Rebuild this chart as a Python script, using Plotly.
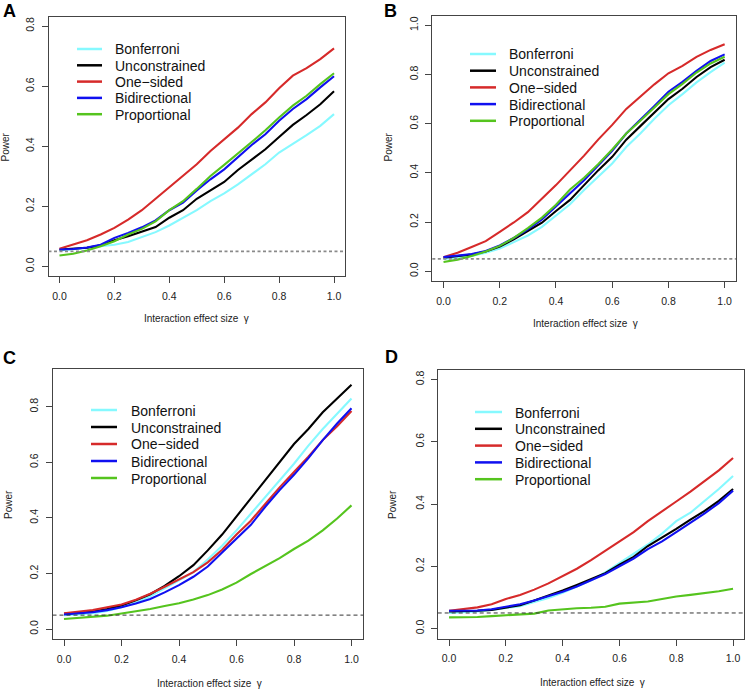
import plotly.graph_objects as go

W, H = 747, 691

X = [0.0, 0.05, 0.1, 0.15, 0.2, 0.25, 0.3, 0.35, 0.4, 0.45, 0.5,
     0.55, 0.6, 0.65, 0.7, 0.75, 0.8, 0.85, 0.9, 0.95, 1.0]

SERIES = ["Bonferroni", "Unconstrained", "One\u2212sided", "Bidirectional", "Proportional"]
COLORS = ["#86F9FF", "#000000", "#D62A2A", "#1010F0", "#55C41E"]

# Panel A
A_bonf = [0.053, 0.056, 0.061, 0.067, 0.072, 0.081, 0.098, 0.114, 0.136, 0.162, 0.187,
          0.217, 0.243, 0.273, 0.306, 0.340, 0.379, 0.407, 0.437, 0.468, 0.507]
A_unc = [0.056, 0.058, 0.062, 0.070, 0.087, 0.100, 0.115, 0.131, 0.162, 0.187, 0.225,
         0.254, 0.281, 0.321, 0.357, 0.390, 0.431, 0.471, 0.504, 0.540, 0.583]
A_one = [0.059, 0.072, 0.087, 0.106, 0.128, 0.156, 0.187, 0.225, 0.264, 0.304, 0.340,
         0.384, 0.423, 0.462, 0.507, 0.546, 0.593, 0.635, 0.660, 0.690, 0.726]
A_bid = [0.056, 0.058, 0.063, 0.072, 0.095, 0.111, 0.130, 0.153, 0.187, 0.212, 0.253,
         0.290, 0.323, 0.364, 0.404, 0.440, 0.485, 0.524, 0.557, 0.596, 0.633]
A_pro = [0.036, 0.042, 0.053, 0.067, 0.084, 0.106, 0.125, 0.150, 0.187, 0.217, 0.258,
         0.301, 0.338, 0.375, 0.414, 0.453, 0.496, 0.535, 0.568, 0.607, 0.643]

# Panel B
B_bonf = [0.050, 0.055, 0.062, 0.075, 0.092, 0.118, 0.145, 0.180, 0.228, 0.272, 0.330,
          0.385, 0.438, 0.505, 0.560, 0.620, 0.675, 0.720, 0.768, 0.810, 0.848]
B_unc = [0.055, 0.060, 0.068, 0.080, 0.100, 0.130, 0.162, 0.197, 0.245, 0.290, 0.350,
         0.410, 0.465, 0.535, 0.590, 0.645, 0.700, 0.742, 0.790, 0.830, 0.860]
B_one = [0.057, 0.075, 0.098, 0.122, 0.160, 0.198, 0.240, 0.295, 0.350, 0.410, 0.470,
         0.535, 0.595, 0.660, 0.710, 0.760, 0.805, 0.835, 0.872, 0.900, 0.923]
B_bid = [0.057, 0.062, 0.070, 0.082, 0.105, 0.135, 0.170, 0.210, 0.262, 0.315, 0.370,
         0.430, 0.490, 0.560, 0.615, 0.672, 0.730, 0.770, 0.815, 0.855, 0.882]
B_pro = [0.037, 0.047, 0.062, 0.080, 0.103, 0.135, 0.175, 0.218, 0.270, 0.332, 0.380,
         0.435, 0.495, 0.560, 0.612, 0.665, 0.720, 0.762, 0.808, 0.845, 0.872]

# Panel C
C_bonf = [0.050, 0.052, 0.057, 0.065, 0.078, 0.095, 0.118, 0.145, 0.175, 0.205, 0.250,
          0.300, 0.355, 0.415, 0.475, 0.535, 0.595, 0.660, 0.720, 0.775, 0.830]
C_unc = [0.055, 0.058, 0.063, 0.072, 0.085, 0.103, 0.125, 0.155, 0.190, 0.230, 0.283,
         0.340, 0.405, 0.470, 0.535, 0.600, 0.666, 0.720, 0.780, 0.830, 0.879]
C_one = [0.057, 0.062, 0.068, 0.078, 0.088, 0.105, 0.127, 0.152, 0.180, 0.205, 0.240,
         0.285, 0.340, 0.390, 0.450, 0.510, 0.565, 0.620, 0.680, 0.730, 0.785]
C_bid = [0.052, 0.055, 0.060, 0.068, 0.078, 0.092, 0.108, 0.132, 0.158, 0.188, 0.225,
         0.275, 0.325, 0.375, 0.440, 0.500, 0.555, 0.615, 0.680, 0.740, 0.795]
C_pro = [0.036, 0.040, 0.042, 0.048, 0.056, 0.063, 0.072, 0.083, 0.093, 0.106, 0.122,
         0.142, 0.167, 0.198, 0.225, 0.255, 0.288, 0.318, 0.355, 0.398, 0.445]

# Panel D
D_bonf = [0.050, 0.052, 0.055, 0.060, 0.065, 0.072, 0.085, 0.098, 0.115, 0.135, 0.155,
          0.180, 0.210, 0.240, 0.270, 0.305, 0.345, 0.372, 0.410, 0.448, 0.490]
D_unc = [0.055, 0.055, 0.057, 0.060, 0.068, 0.075, 0.090, 0.105, 0.122, 0.140, 0.158,
         0.178, 0.205, 0.230, 0.265, 0.292, 0.320, 0.350, 0.378, 0.410, 0.448]
D_one = [0.057, 0.062, 0.068, 0.078, 0.095, 0.108, 0.125, 0.145, 0.168, 0.192, 0.220,
         0.250, 0.280, 0.310, 0.345, 0.378, 0.408, 0.440, 0.475, 0.508, 0.548]
D_bid = [0.057, 0.057, 0.058, 0.062, 0.070, 0.078, 0.090, 0.103, 0.118, 0.135, 0.155,
         0.175, 0.200, 0.225, 0.255, 0.280, 0.310, 0.340, 0.370, 0.403, 0.443]
D_pro = [0.036, 0.036, 0.037, 0.040, 0.043, 0.045, 0.048, 0.058, 0.062, 0.065, 0.067,
         0.070, 0.080, 0.083, 0.087, 0.095, 0.103, 0.108, 0.113, 0.120, 0.128]

PANEL_LABELS = ["A", "B", "C", "D"]
PANEL_DATA = [
    [A_bonf, A_unc, A_one, A_bid, A_pro],
    [B_bonf, B_unc, B_one, B_bid, B_pro],
    [C_bonf, C_unc, C_one, C_bid, C_pro],
    [D_bonf, D_unc, D_one, D_bid, D_pro],
]
Y_TICKS = [
    [0.0, 0.2, 0.4, 0.6, 0.8],
    [0.0, 0.2, 0.4, 0.6, 0.8, 1.0],
    [0.0, 0.2, 0.4, 0.6, 0.8],
    [0.0, 0.2, 0.4, 0.6, 0.8],
]
Y_RANGES = [[-0.032, 0.832], [-0.04, 1.04], [-0.036, 0.936], [-0.032, 0.832]]
X_TICKS = [0.0, 0.2, 0.4, 0.6, 0.8, 1.0]
ALPHA = 0.05
X_TITLE = "Interaction effect size  \u03b3"
Y_TITLE = "Power"

# layout geometry (pixels)
BOXES = [  # left, right, top, bottom
    (48.5, 345.0, 16.5, 276.0),
    (432.3, 735.9, 15.5, 281.0),
    (52.5, 363.0, 369.0, 639.0),
    (437.7, 744.4, 369.5, 638.5),
]
LEG = [  # line x0, line x1, text x, first row y, row step
    (77, 102, 113, 49, 16.3),
    (470, 496, 507, 54, 16.7),
    (91, 117, 129, 410, 17.0),
    (475, 502, 513, 412, 16.8),
]
LETTER_POS = [(9, 11.5), (390, 10.5), (9.5, 358), (391.5, 357)]
YTITLE_POS = [(5.5, 147), (388.5, 147), (8, 505), (392, 505)]
XTITLE_POS = [(196.7, 318), (585, 323), (209, 683), (592, 682)]
REF_STYLE = [("#8a8a8a", 1.6, "3px,2.5px"), ("#8a8a8a", 1.6, "3px,2.5px"),
             ("#333333", 1.0, "4px,3px"), ("#333333", 1.0, "4px,3px")]

FONT = "Liberation Sans, Arial, Helvetica, sans-serif"
AXC = "#444444"


def px(x):
    return x / W


def py(y):
    return 1 - y / H


fig = go.Figure()
shapes = []
annotations = []

for i in range(4):
    sfx = "" if i == 0 else str(i + 1)
    xa, ya = "x" + sfx, "y" + sfx
    l, r, t, b = BOXES[i]
    for name, col, vals in zip(SERIES, COLORS, PANEL_DATA[i]):
        fig.add_trace(go.Scatter(x=X, y=vals, mode="lines", name=name,
                                 line=dict(color=col, width=2.1),
                                 xaxis=xa, yaxis=ya, showlegend=False,
                                 hoverinfo="skip"))
    common = dict(showgrid=False, zeroline=False, showline=True, mirror=True,
                  linecolor=AXC, linewidth=1, ticks="outside", ticklen=6,
                  tickcolor=AXC, tickwidth=1,
                  tickfont=dict(family=FONT, size=10.5, color="#222222"))
    fig.update_layout(**{
        "xaxis" + sfx: dict(domain=[px(l), px(r)], range=[-0.04, 1.04],
                            tickvals=X_TICKS, tickformat=".1f", anchor=ya,
                            ticklabelstandoff=4, **common),
        "yaxis" + sfx: dict(domain=[py(b), py(t)], range=Y_RANGES[i],
                            tickvals=Y_TICKS[i], tickformat=".1f", anchor=xa,
                            tickangle=-90, ticklabelstandoff=3, **common),
    })
    c, w, d = REF_STYLE[i]
    shapes.append(dict(type="line", xref=xa + " domain", yref=ya, x0=0, x1=1,
                       y0=ALPHA, y1=ALPHA, line=dict(color=c, width=w, dash=d)))
    # legend
    lx0, lx1, tx, ry, step = LEG[i]
    for k, (name, col) in enumerate(zip(SERIES, COLORS)):
        yy = ry + k * step
        shapes.append(dict(type="line", xref="paper", yref="paper",
                           x0=px(lx0), x1=px(lx1), y0=py(yy), y1=py(yy),
                           line=dict(color=col, width=2.5)))
        annotations.append(dict(x=px(tx), y=py(yy + 0.5), xref="paper", yref="paper",
                                text=name, showarrow=False, xanchor="left",
                                yanchor="middle",
                                font=dict(family=FONT, size=14, color="#111111")))
    # panel letter
    lxp, lyp = LETTER_POS[i]
    annotations.append(dict(x=px(lxp), y=py(lyp), xref="paper", yref="paper",
                            text="<b>" + PANEL_LABELS[i] + "</b>", showarrow=False,
                            xanchor="center", yanchor="middle",
                            font=dict(family=FONT, size=18, color="#000000")))
    # axis titles
    yx, yy2 = YTITLE_POS[i]
    annotations.append(dict(x=px(yx), y=py(yy2), xref="paper", yref="paper",
                            text=Y_TITLE, showarrow=False, textangle=-90,
                            xanchor="center", yanchor="middle",
                            font=dict(family=FONT, size=10, color="#222222")))
    xx, xy = XTITLE_POS[i]
    annotations.append(dict(x=px(xx), y=py(xy), xref="paper", yref="paper",
                            text=X_TITLE, showarrow=False,
                            xanchor="center", yanchor="middle",
                            font=dict(family=FONT, size=10, color="#222222")))

fig.update_layout(width=W, height=H, margin=dict(l=0, r=0, t=0, b=0),
                  paper_bgcolor="white", plot_bgcolor="white",
                  shapes=shapes, annotations=annotations, showlegend=False,
                  hovermode=False)

# remove the default 8px page margin so the figure fills the window exactly
fig.write_html("out.html",
               config={"displayModeBar": False, "staticPlot": True},
               post_script="document.body.style.margin='0';"
                           "document.body.style.overflow='hidden';")
